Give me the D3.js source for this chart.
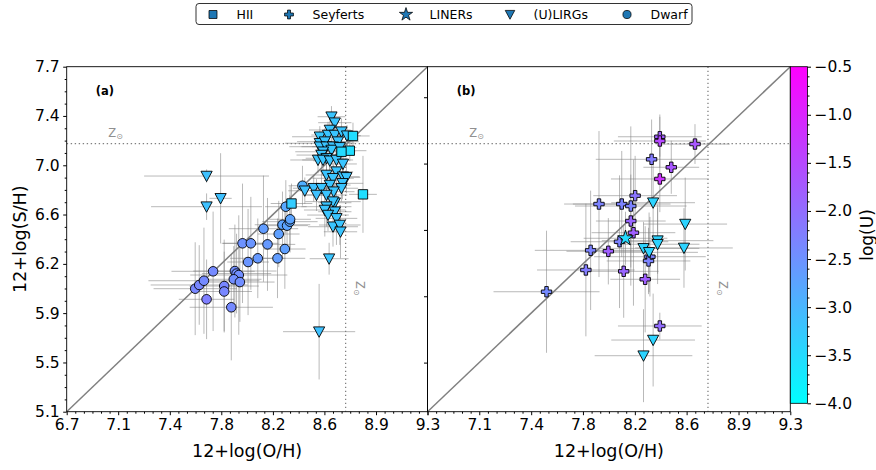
<!DOCTYPE html>
<html>
<head>
<meta charset="utf-8">
<script src="https://cdn.jsdelivr.net/npm/d3@7"></script>
<style>
  body { margin: 0; background: #fff; }
  text { font-family: "DejaVu Sans", sans-serif; }
</style>
</head>
<body>
<div id="chart"></div>
<script>
// rows: [12+log(O/H), 12+log(S/H), err O/H, err S/H, log(U)]
const hiiPanelA = [
  [8.320, 6.669, 0.15, 0.15, -3.30],
  [8.835, 6.738, 0.10, 0.29, -3.55],
  [8.763, 7.178, 0.12, 0.10, -3.55],
  [8.740, 7.067, 0.12, 0.08, -3.55],
  [8.680, 7.059, 0.10, 0.10, -3.50],
];

const dwarfPanelA = [
  [7.626, 6.027, 0.30, 0.35, -2.35], [7.655, 6.055, 0.35, 0.30, -2.35],
  [7.689, 6.087, 0.40, 0.40, -2.40], [7.755, 6.158, 0.30, 0.45, -2.40],
  [7.708, 5.947, 0.20, 0.30, -2.25], [7.835, 6.047, 0.25, 0.35, -2.35],
  [7.835, 6.006, 0.20, 0.30, -2.35], [7.886, 5.887, 0.30, 0.40, -2.40],
  [7.912, 6.160, 0.30, 0.35, -2.45], [7.924, 6.141, 0.25, 0.30, -2.45],
  [7.940, 6.130, 0.35, 0.45, -2.45], [7.904, 6.098, 0.20, 0.25, -2.45],
  [7.948, 6.077, 0.25, 0.30, -2.45], [7.967, 6.369, 0.15, 0.45, -2.50],
  [8.027, 6.369, 0.20, 0.35, -2.55], [8.007, 6.228, 0.15, 0.40, -2.55],
  [8.077, 6.256, 0.20, 0.30, -2.60], [8.147, 6.361, 0.20, 0.35, -2.60],
  [8.118, 6.479, 0.25, 0.40, -2.65], [8.219, 6.256, 0.20, 0.30, -2.65],
  [8.228, 6.439, 0.15, 0.25, -2.70], [8.272, 6.326, 0.15, 0.30, -2.70],
  [8.255, 6.509, 0.20, 0.25, -2.75], [8.288, 6.502, 0.15, 0.20, -2.75],
  [8.308, 6.532, 0.20, 0.20, -2.75], [8.310, 6.550, 0.15, 0.25, -2.75],
  [8.279, 6.645, 0.15, 0.20, -2.80], [8.399, 6.803, 0.10, 0.15, -2.90],
];

const ulirgPanelA = [
  [7.708, 6.876, 0.45, 0.05, -3.15], [7.809, 6.708, 0.08, 0.34, -3.15],
  [7.708, 6.645, 0.40, 0.10, -3.15], [8.591, 6.253, 0.14, 0.12, -3.20],
  [8.519, 5.703, 0.26, 0.36, -3.15],
  [8.608, 7.323, 0.10, 0.08, -3.20], [8.632, 7.278, 0.12, 0.08, -3.20],
  [8.596, 7.223, 0.15, 0.10, -3.20], [8.524, 7.172, 0.20, 0.08, -3.25],
  [8.583, 7.185, 0.12, 0.10, -3.20], [8.632, 7.185, 0.10, 0.12, -3.20],
  [8.680, 7.210, 0.12, 0.10, -3.20], [8.720, 7.180, 0.10, 0.08, -3.25],
  [8.524, 7.123, 0.25, 0.08, -3.20], [8.560, 7.135, 0.20, 0.10, -3.20],
  [8.655, 7.135, 0.15, 0.10, -3.20], [8.524, 7.097, 0.22, 0.06, -3.20],
  [8.572, 7.097, 0.18, 0.08, -3.20], [8.619, 7.097, 0.15, 0.10, -3.20],
  [8.608, 7.072, 0.12, 0.10, -3.25], [8.668, 7.092, 0.12, 0.12, -3.20],
  [8.547, 7.059, 0.20, 0.08, -3.20], [8.536, 7.034, 0.18, 0.10, -3.20],
  [8.572, 7.010, 0.15, 0.12, -3.20], [8.511, 6.997, 0.20, 0.10, -3.20],
  [8.547, 6.997, 0.15, 0.12, -3.20], [8.596, 6.991, 0.12, 0.15, -3.20],
  [8.644, 6.997, 0.12, 0.12, -3.20], [8.691, 6.967, 0.10, 0.10, -3.20],
  [8.572, 6.884, 0.15, 0.12, -3.20], [8.644, 6.909, 0.12, 0.15, -3.20],
  [8.619, 6.859, 0.15, 0.12, -3.20], [8.691, 6.871, 0.12, 0.10, -3.20],
  [8.716, 6.866, 0.10, 0.12, -3.20], [8.687, 6.821, 0.15, 0.12, -3.20],
  [8.596, 6.808, 0.15, 0.15, -3.20], [8.416, 6.765, 0.12, 0.10, -3.15],
  [8.480, 6.784, 0.15, 0.10, -3.15], [8.536, 6.784, 0.12, 0.12, -3.20],
  [8.680, 6.784, 0.12, 0.10, -3.20], [8.624, 6.758, 0.15, 0.20, -3.20],
  [8.500, 6.733, 0.10, 0.12, -3.15], [8.572, 6.733, 0.15, 0.15, -3.20],
  [8.632, 6.675, 0.12, 0.15, -3.20], [8.619, 6.683, 0.20, 0.12, -3.20],
  [8.572, 6.645, 0.18, 0.15, -3.20], [8.560, 6.620, 0.15, 0.20, -3.20],
  [8.632, 6.607, 0.12, 0.15, -3.20], [8.583, 6.582, 0.15, 0.12, -3.20],
  [8.644, 6.557, 0.15, 0.20, -3.20], [8.619, 6.494, 0.18, 0.15, -3.20],
  [8.668, 6.507, 0.15, 0.15, -3.20], [8.673, 6.456, 0.12, 0.20, -3.20],
];

const seyfertPanelB = [
  [8.365, 7.172, 0.30, 0.15, -1.80], [8.365, 7.140, 0.33, 0.20, -1.50],
  [8.617, 7.117, 0.25, 0.15, -1.70], [8.306, 7.002, 0.40, 0.30, -2.20],
  [8.447, 6.942, 0.20, 0.20, -1.70], [8.365, 6.854, 0.35, 0.25, -1.20],
  [8.188, 6.728, 0.30, 0.30, -2.10], [7.929, 6.665, 0.25, 0.55, -2.30],
  [8.092, 6.665, 0.35, 0.40, -2.30], [8.157, 6.650, 0.40, 0.60, -2.30],
  [8.157, 6.537, 0.25, 0.35, -1.90], [8.176, 6.449, 0.30, 0.55, -1.80],
  [8.076, 6.381, 0.35, 0.50, -2.30], [7.869, 6.316, 0.40, 0.45, -2.30],
  [7.996, 6.309, 0.30, 0.25, -1.80], [8.294, 6.268, 0.40, 0.30, -2.30],
  [8.284, 6.236, 0.30, 0.25, -2.30], [7.835, 6.168, 0.35, 0.50, -2.20],
  [8.106, 6.158, 0.25, 0.35, -1.90], [8.260, 6.098, 0.25, 0.40, -1.80],
  [7.553, 6.004, 0.38, 0.46, -2.40], [8.365, 5.746, 0.30, 0.10, -2.00],
];

const linerPanelB = [
  [8.119, 6.407, 0.30, 0.20, -3.50],
];

const ulirgPanelB = [
  [8.317, 6.675, 0.30, 0.30, -3.40], [8.547, 6.514, 0.30, 0.35, -3.40],
  [8.248, 6.331, 0.40, 0.20, -3.40], [8.288, 6.301, 0.35, 0.30, -3.40],
  [8.349, 6.389, 0.40, 0.25, -3.40], [8.349, 6.362, 0.30, 0.30, -3.40],
  [8.538, 6.334, 0.35, 0.30, -3.40], [8.317, 5.640, 0.30, 0.35, -3.40],
  [8.248, 5.522, 0.35, 0.35, -3.40],
];

const legendLabels = ['HII', 'Seyferts', 'LINERs', '(U)LIRGs', 'Dwarf'];
const xTickValues = [6.7, 7.071, 7.443, 7.814, 8.186, 8.557, 8.929, 9.3];
const xTickLabels = ['6.7', '7.1', '7.4', '7.8', '8.2', '8.6', '8.9', '9.3'];
const yTickValues = [5.1, 5.471, 5.843, 6.214, 6.586, 6.957, 7.329, 7.7];
const yTickLabels = ['5.1', '5.5', '5.9', '6.2', '6.6', '7.0', '7.4', '7.7'];
const yTickValuesB = [5.47, 5.97, 6.47, 6.97, 7.47];
const cbarTicks = [-4.0, -3.5, -3.0, -2.5, -2.0, -1.5, -1.0, -0.5];
const solarOH = 8.71;
const solarSH = 7.12;

// Layout
const width = 876, height = 470;
const plotTop = 66.7, plotBottom = 411.7;
const panelA = [66.7, 427.5], panelB = [427.5, 790.3];
const cbar = {x: 790.3, w: 17.2, top: 66.7, bottom: 403.3};

const svg = d3.select('#chart').append('svg')
  .attr('width', width).attr('height', height)
  .style('display', 'block');

const color = d3.scaleLinear().domain([-4, -0.5]).range(['#00ffff', '#ff00ff']);
const yScale = d3.scaleLinear().domain([5.1, 7.7]).range([plotBottom, plotTop]);

// marker shapes
const triDown = 'M-5.6,-4.8L5.6,-4.8L0,5.6Z';
const shapes = {
  square: d3.symbol(d3.symbolSquare, 88)(),
  circle: d3.symbol(d3.symbolCircle, 72)(),
  plus: d3.symbol(d3.symbolCross, 60)(),
  star: d3.symbol(d3.symbolStar, 75)(),
  tri: triDown,
};

function minorTicks(majors, n) {
  const out = [];
  for (let i = 0; i < majors.length - 1; i++) {
    const step = (majors[i + 1] - majors[i]) / (n + 1);
    for (let k = 1; k <= n; k++) out.push(majors[i] + k * step);
  }
  return out;
}

function drawPanel(range, id, label, groups, opts) {
  const x = d3.scaleLinear().domain([6.7, 9.3]).range(range);
  const g = svg.append('g');

  svg.append('clipPath').attr('id', 'clip' + id)
    .append('rect').attr('x', range[0]).attr('y', plotTop)
    .attr('width', range[1] - range[0]).attr('height', plotBottom - plotTop);

  const plot = g.append('g').attr('clip-path', `url(#clip${id})`);

  // one-to-one line
  plot.append('line')
    .attr('x1', x(6.7)).attr('y1', yScale(5.1))
    .attr('x2', x(9.3)).attr('y2', yScale(7.7))
    .attr('stroke', '#808080').attr('stroke-width', 1.5);

  // solar lines
  plot.append('line')
    .attr('x1', x(solarOH)).attr('x2', x(solarOH))
    .attr('y1', plotTop).attr('y2', plotBottom)
    .attr('stroke', '#808080').attr('stroke-width', 1.3)
    .attr('stroke-dasharray', '1.4,2.6');
  plot.append('line')
    .attr('x1', range[0]).attr('x2', range[1])
    .attr('y1', yScale(solarSH)).attr('y2', yScale(solarSH))
    .attr('stroke', '#808080').attr('stroke-width', 1.3)
    .attr('stroke-dasharray', '1.4,2.6');

  // error bars first
  const eb = plot.append('g').attr('stroke', '#808080')
    .attr('stroke-opacity', 0.55).attr('stroke-width', 1);
  groups.forEach((grp) => {
    grp.data.forEach((d) => {
      eb.append('line')
        .attr('x1', x(d[0] - d[2])).attr('x2', x(d[0] + d[2]))
        .attr('y1', yScale(d[1])).attr('y2', yScale(d[1]));
      eb.append('line')
        .attr('x1', x(d[0])).attr('x2', x(d[0]))
        .attr('y1', yScale(d[1] - d[3])).attr('y2', yScale(d[1] + d[3]));
    });
  });

  groups.forEach((grp) => {
    plot.append('g').selectAll('path').data(grp.data).join('path')
      .attr('d', shapes[grp.shape])
      .attr('transform', (d) => `translate(${x(d[0])},${yScale(d[1])})`)
      .attr('fill', (d) => color(d[4]))
      .attr('stroke', '#000').attr('stroke-width', 0.9);
  });

  // solar labels
  const zh = g.append('text')
    .attr('x', x(7.0)).attr('y', yScale(7.17))
    .attr('fill', '#909090').attr('font-size', 11.5);
  zh.append('tspan').text('Z');
  zh.append('tspan').attr('font-size', 8).attr('dy', 2).text('⊙');

  const zv = g.append('text')
    .attr('transform', `translate(${x(solarOH + 0.078)},${yScale(6.085)}) rotate(90)`)
    .attr('fill', '#909090').attr('font-size', 11.5);
  zv.append('tspan').text('Z');
  zv.append('tspan').attr('font-size', 8).attr('dy', 2).text('⊙');

  // panel letter
  g.append('text')
    .attr('x', x(6.91)).attr('y', yScale(7.49))
    .attr('font-size', 11.5).attr('font-weight', 'bold')
    .text(label);

  // x axis
  const xAxis = g.append('g').attr('transform', `translate(0,${plotBottom})`)
    .call(d3.axisBottom(x).tickValues(xTickValues)
      .tickFormat((d, i) => (opts.skipFirstX && i === 0 ? '' : xTickLabels[i]))
      .tickSize(3.5).tickPadding(3.5).tickSizeOuter(0));
  xAxis.select('.domain').remove();
  xAxis.selectAll('text').attr('font-size', 15.5).attr('fill', '#000')
    .style('font-family', '"DejaVu Sans", sans-serif');
  g.append('g').attr('transform', `translate(0,${plotBottom})`)
    .call(d3.axisBottom(x).tickValues(minorTicks(xTickValues, 5))
      .tickFormat('').tickSize(2).tickSizeOuter(0))
    .select('.domain').remove();

  g.append('text')
    .attr('x', (range[0] + range[1]) / 2).attr('y', 457)
    .attr('text-anchor', 'middle').attr('font-size', 17.5)
    .text('12+log(O/H)');

  // y axis
  if (opts.yLabels) {
    const yAxis = g.append('g').attr('transform', `translate(${range[0]},0)`)
      .call(d3.axisLeft(yScale).tickValues(yTickValues)
        .tickFormat((d, i) => yTickLabels[i])
        .tickSize(3.5).tickPadding(3.5).tickSizeOuter(0));
    yAxis.select('.domain').remove();
    yAxis.selectAll('text').attr('font-size', 15.5).attr('fill', '#000')
      .style('font-family', '"DejaVu Sans", sans-serif');
    g.append('g').attr('transform', `translate(${range[0]},0)`)
      .call(d3.axisLeft(yScale).tickValues(minorTicks(yTickValues, 3))
        .tickFormat('').tickSize(2).tickSizeOuter(0))
      .select('.domain').remove();
  } else {
    g.append('g').attr('transform', `translate(${range[0]},0)`)
      .call(d3.axisLeft(yScale).tickValues(yTickValuesB)
        .tickFormat('').tickSize(3.5).tickSizeOuter(0))
      .select('.domain').remove();
  }

  // frame
  g.append('rect')
    .attr('x', range[0]).attr('y', plotTop)
    .attr('width', range[1] - range[0]).attr('height', plotBottom - plotTop)
    .attr('fill', 'none').attr('stroke', '#000').attr('stroke-width', 0.9);
}

drawPanel(panelA, 'a', '(a)', [
  {data: dwarfPanelA, shape: 'circle'},
  {data: ulirgPanelA, shape: 'tri'},
  {data: hiiPanelA, shape: 'square'},
], {yLabels: true, skipFirstX: false});

drawPanel(panelB, 'b', '(b)', [
  {data: seyfertPanelB, shape: 'plus'},
  {data: linerPanelB, shape: 'star'},
  {data: ulirgPanelB, shape: 'tri'},
], {yLabels: false, skipFirstX: true});

// y label
svg.append('text')
  .attr('transform', `translate(26,${(plotTop + plotBottom) / 2}) rotate(-90)`)
  .attr('text-anchor', 'middle').attr('font-size', 17.5)
  .text('12+log(S/H)');

// colorbar
const defs = svg.append('defs');
const grad = defs.append('linearGradient').attr('id', 'cool')
  .attr('x1', 0).attr('y1', 1).attr('x2', 0).attr('y2', 0);
grad.append('stop').attr('offset', 0).attr('stop-color', color(-4));
grad.append('stop').attr('offset', 1).attr('stop-color', color(-0.5));

const cScale = d3.scaleLinear().domain([-4, -0.5]).range([cbar.bottom, cbar.top]);
svg.append('rect')
  .attr('x', cbar.x).attr('y', cbar.top)
  .attr('width', cbar.w).attr('height', cbar.bottom - cbar.top)
  .attr('fill', 'url(#cool)').attr('stroke', '#000').attr('stroke-width', 0.8);

const cAxis = svg.append('g').attr('transform', `translate(${cbar.x + cbar.w},0)`)
  .call(d3.axisRight(cScale).tickValues(cbarTicks)
    .tickFormat((d) => d.toFixed(1).replace('-', '\u2212'))
    .tickSize(3.5).tickPadding(3.5).tickSizeOuter(0));
cAxis.select('.domain').remove();
cAxis.selectAll('text').attr('font-size', 15.5).attr('fill', '#000')
  .style('font-family', '"DejaVu Sans", sans-serif');
svg.append('g').attr('transform', `translate(${cbar.x + cbar.w},0)`)
  .call(d3.axisRight(cScale).tickValues(d3.range(-3.9, -0.55, 0.1).filter((v) => Math.abs(v * 2 - Math.round(v * 2)) > 0.05))
    .tickFormat('').tickSize(2).tickSizeOuter(0))
  .select('.domain').remove();

svg.append('text')
  .attr('transform', `translate(873,${(cbar.top + cbar.bottom) / 2}) rotate(-90)`)
  .attr('text-anchor', 'middle').attr('font-size', 17)
  .text('log(U)');

// legend
const legendX = [213, 289, 406, 510, 627];
const legendShapes = ['square', 'plus', 'star', 'tri', 'circle'];
const legend = svg.append('g');
legend.append('rect')
  .attr('x', 196).attr('y', 3.5).attr('width', 496).attr('height', 21)
  .attr('rx', 3).attr('fill', '#fff').attr('stroke', '#333').attr('stroke-width', 1);
legendLabels.forEach((name, i) => {
  legend.append('path')
    .attr('d', shapes[legendShapes[i]])
    .attr('transform', `translate(${legendX[i]},14.5) scale(0.85)`)
    .attr('fill', '#1f77b4').attr('stroke', '#000').attr('stroke-width', 0.9);
  legend.append('text')
    .attr('x', legendX[i] + 23.5).attr('y', 19)
    .attr('font-size', 12.5).text(name);
});
</script>
</body>
</html>
